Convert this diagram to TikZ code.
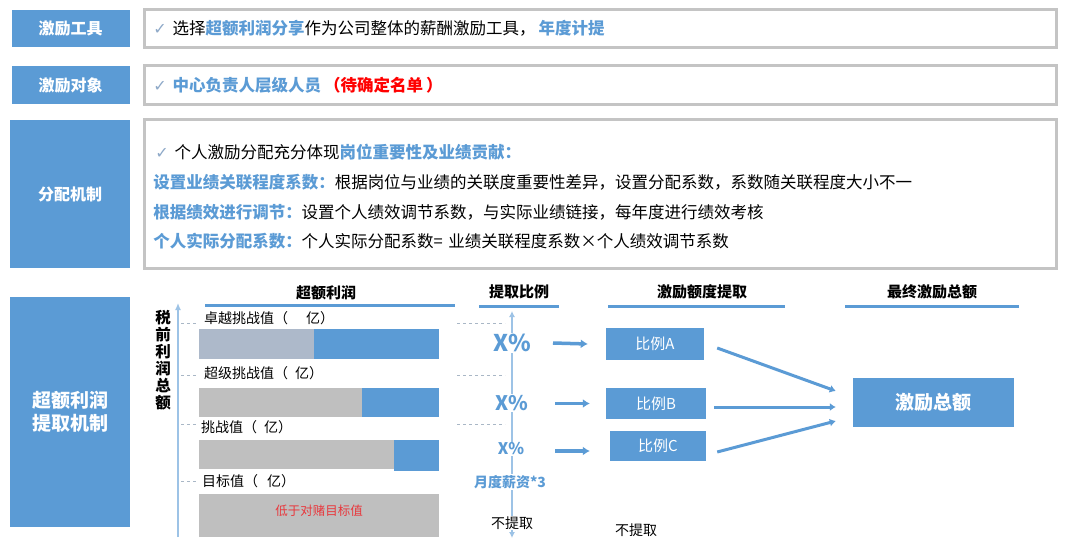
\documentclass[tikz,border=0pt]{standalone}
\usepackage{fontspec}
\setmainfont{Noto Sans CJK SC}
\newfontfamily\symfont{DejaVu Sans}
\usepackage{tikz}
\usetikzlibrary {arrows.meta}
\definecolor{boxblue}{HTML}{5B9BD5}
\definecolor{textblue}{HTML}{5B9BD5}
\definecolor{paleblue}{HTML}{9DC3E6}
\definecolor{panelgray}{HTML}{C4C4C4}
\definecolor{bargray}{HTML}{BFBFBF}
\definecolor{barslate}{HTML}{ADB9CA}
\definecolor{checkgray}{HTML}{8EA9C8}
\definecolor{dashgray}{HTML}{A9B7C6}
\definecolor{warnred}{HTML}{E8383D}

\begin{document}
\begin{tikzpicture}[x=1pt,y=-1pt,
  tag/.style={fill=boxblue, text=white, font=\bfseries\fontsize{16}{23}\selectfont, inner sep=0pt, align=center},
  panel/.style={draw=panelgray, line width=2.5pt, fill=white, anchor=west, inner xsep=9pt, inner ysep=0pt, text width=894pt, align=left, font=\fontsize{16.5}{29.7}\selectfont},
  header/.style={font=\bfseries\fontsize{15}{18}\selectfont},
  underline/.style={boxblue, line width=3pt},
  barlabel/.style={anchor=west, font=\fontsize{14}{16}\selectfont, inner sep=0pt},
  dashline/.style={dashgray, dashed, line width=0.9pt},
  ratio/.style={fill=boxblue, text=white, font=\fontsize{15}{18}\selectfont, inner sep=0pt},
  pct/.style={fill=white, text=textblue, font=\bfseries, inner sep=1pt},
  fatarrow/.style={boxblue, line width=3.5pt, -{Latex[length=7pt,width=9pt]}},
  slimarrow/.style={boxblue, line width=3pt, -{Latex[length=6pt,width=8pt]}}]
\path[fill=white] (0,0) rectangle (1072,552);
\useasboundingbox (0,0) rectangle (1072,552);
\newcommand{\ck}{{\symfont\color{checkgray}\fontsize{16}{16}\selectfont ✓}\hspace{6pt}}
\newcommand{\dou}{，\hspace{3pt}}

% top three rows
\path (70.5,28.5) node (tagtool) [tag, minimum width=118pt, minimum height=37pt] {激励工具};
\path (143,28.5) node (paneltool) [panel, minimum height=38pt] {\ck 选择\textcolor{textblue}{\bfseries 超额利润分享}作为公司整体的薪酬激励工具\dou\textcolor{textblue}{\bfseries 年度计提}};
\path (70.5,85) node (tagwho) [tag, minimum width=118pt, minimum height=38pt] {激励对象};
\path (143,85) node (panelwho) [panel, minimum height=39pt] {\ck\textcolor{textblue}{\bfseries 中心负责人层级人员}\textcolor{red}{\bfseries \hspace{3pt}（待确定名单\hspace{3pt}）}};
\path (70,194) node (tagrule) [tag, minimum width=120pt, minimum height=148pt] {分配机制};
\path (143,194) node (panelrule) [panel, minimum height=149pt] {\rule{0pt}{20pt}\hspace{2pt}\ck 个人激励分配充分体现\textcolor{textblue}{\bfseries 岗位重要性及业绩贡献：}\\
\textcolor{textblue}{\bfseries 设置业绩关联程度系数：}根据岗位与业绩的关联度重要性差异，设置分配系数，系数随关联程度大小不一\\
\textcolor{textblue}{\bfseries 根据绩效进行调节：}设置个人绩效调节系数，与实际业绩链接，每年度进行绩效考核\\
\textcolor{textblue}{\bfseries 个人实际分配系数：}个人实际分配系数= 业绩关联程度系数×个人绩效调节系数};

% extraction mechanism
\path (70,412) node (tagdraw) [tag, minimum width=120pt, minimum height=230pt, font=\bfseries\fontsize{19}{23}\selectfont] {超额利润\\提取机制};

% headers
\path (326,293) node (hprofit) [header] {超额利润};
\path (519,292) node (hratio) [header] {提取比例};
\path (702,292) node (hamount) [header] {激励额度提取};
\path (932,292) node (htotal) [header] {最终激励总额};
\draw[underline] (205,305) -- (455,305);
\draw[underline] (479,306) -- (559,306);
\draw[underline] (608,306) -- (785,306);
\draw[underline] (845,306) -- (1019,306);

% profit axis
\coordinate (axbot) at (178,537);
\coordinate (axtop) at (178,303);
\draw[paleblue, line width=1.5pt, -{Latex[length=7pt,width=6pt]}] (axbot) -- (axtop);
\path (163,360) node (axlabel) [font=\bfseries\fontsize{15.5}{17}\selectfont, align=center, inner sep=0pt] {税\\前\\利\\润\\总\\额};
\foreach \y in {323,375,424,481}
  \draw[dashline] (181,\y) -- (197,\y);
\foreach \y in {323,375,424}
  \draw[dashline] (457,\y) -- (505,\y);

% bars
\fill[barslate] (199,329) rectangle (314,359);
\fill[boxblue] (314,329) rectangle (439,359);
\fill[bargray] (199,388) rectangle (362,417);
\fill[boxblue] (362,388) rectangle (439,417);
\fill[bargray] (199,440) rectangle (394,469);
\fill[boxblue] (394,440) rectangle (439,471);
\fill[bargray] (199,494) rectangle (439,537);
\path (204,318) node (lvltop) [barlabel] {卓越挑战值（\hspace{18pt}亿）};
\path (204,373) node (lvlsuper) [barlabel] {超级挑战值（\hspace{7pt}亿）};
\path (201,427) node (lvlchal) [barlabel] {挑战值（\hspace{7pt}亿）};
\path (202,481) node (lvltarget) [barlabel] {目标值（\hspace{9pt}亿）};
\path (319,511) node (below) [text=warnred, font=\fontsize{12.5}{14}\selectfont] {低于对赌目标值};

% ratio axis
\coordinate (mtop) at (512,311);
\coordinate (mbot) at (512,538);
\draw[paleblue, line width=1.2pt, {Latex[length=6pt,width=6pt]}-{Latex[length=6pt,width=6pt]}] (mbot) -- (mtop);
\path (512,343) node (xa) [pct, font=\bfseries\fontsize{23}{26}\selectfont] {X\%};
\path (512,403) node (xb) [pct, font=\bfseries\fontsize{20}{24}\selectfont] {X\%};
\path (511,449) node (xc) [pct, font=\bfseries\fontsize{16}{19}\selectfont] {X\%};
\path (510,482) node (monthly) [pct, font=\bfseries\fontsize{14}{17}\selectfont] {月度薪资*3};
\path (512,523) node (noneA) [fill=white, inner sep=1pt, font=\fontsize{14}{17}\selectfont] {不提取};

% amounts
\path (655,344) node (ra) [ratio, minimum width=98pt, minimum height=32pt] {比例A};
\path (656,403.5) node (rb) [ratio, minimum width=100pt, minimum height=31pt] {比例B};
\path (658,446) node (rc) [ratio, minimum width=96pt, minimum height=30pt] {比例C};
\path (636,530) node (noneB) [font=\fontsize{14}{17}\selectfont] {不提取};
\path (933.5,402.5) node (tot) [tag, minimum width=161pt, minimum height=49pt, font=\bfseries\fontsize{19}{23}\selectfont] {激励总额};

\draw[fatarrow] ([xshift=41pt]xa.center) -- ([xshift=-18pt]ra.west);
\draw[fatarrow] ([xshift=43pt,yshift=-0.5pt]xb.center) -- ([xshift=-16pt]rb.west);
\draw[fatarrow] ([xshift=44pt,yshift=-2pt]xc.center) -- ([xshift=-20pt,yshift=-5pt]rc.west);
\draw[slimarrow] ([xshift=13pt,yshift=-4pt]ra.east) -- ([xshift=-17pt,yshift=11.5pt]tot.west);
\draw[slimarrow] ([xshift=8pt,yshift=-3.5pt]rb.east) -- ([xshift=-17pt,yshift=-4.5pt]tot.west);
\draw[slimarrow] ([xshift=11pt,yshift=-6pt]rc.east) -- ([xshift=-17pt,yshift=-18.5pt]tot.west);
\end{tikzpicture}
\end{document}
